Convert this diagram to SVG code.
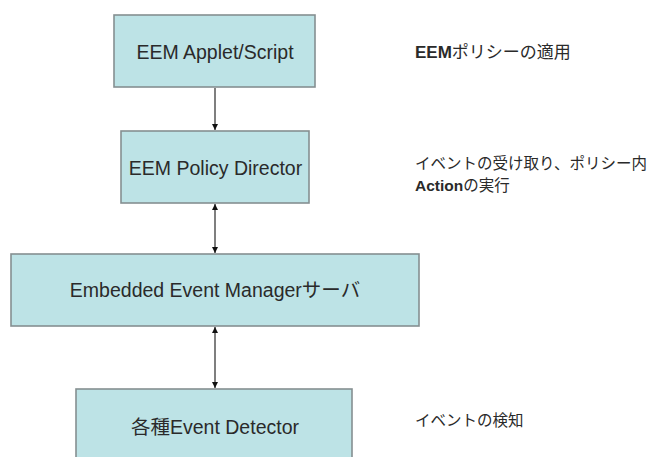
<svg xmlns="http://www.w3.org/2000/svg" width="658" height="457" viewBox="0 0 658 457">
  <style>
    .box { fill: #bde3e6; stroke: #858f91; stroke-width: 1.6; }
    .label { font-family: "Liberation Sans", "Noto Sans CJK JP", Arial, sans-serif; font-size: 19.5px; fill: #2a2a2a; text-anchor: middle; dominant-baseline: central; }
    .note { font-family: "Liberation Sans", "Noto Sans CJK JP", sans-serif; font-size: 15.5px; fill: #2a2a2a; }
    .note .b { font-weight: bold; }
    .conn { stroke: #555; stroke-width: 1.5; fill: none; }
  </style>
  <defs>
    <marker id="head" viewBox="0 0 6 6" refX="6" refY="3" markerWidth="6" markerHeight="6" markerUnits="userSpaceOnUse" orient="auto-start-reverse">
      <path d="M0,0 L6,3 L0,6 Z" fill="#111"/>
    </marker>
  </defs>

  <rect width="658" height="457" fill="#ffffff"/>

  <g id="connectors">
    <line class="conn" x1="215" y1="88" x2="215" y2="130" marker-end="url(#head)"/>
    <line class="conn" x1="215" y1="204" x2="215" y2="253" marker-start="url(#head)" marker-end="url(#head)"/>
    <line class="conn" x1="215" y1="327" x2="215" y2="388" marker-start="url(#head)" marker-end="url(#head)"/>
  </g>

  <g id="applet">
    <rect class="box" x="114" y="15" width="201" height="72"/>
    <text class="label" x="215" y="52">EEM Applet/Script</text>
  </g>

  <g id="director">
    <rect class="box" x="121" y="131" width="188" height="72"/>
    <text class="label" x="215.5" y="168">EEM Policy Director</text>
  </g>

  <g id="server">
    <rect class="box" x="11" y="254" width="408" height="72"/>
    <text class="label" x="215" y="290">Embedded Event Managerサーバ</text>
  </g>

  <g id="detector">
    <rect class="box" x="76" y="389" width="276" height="80"/>
    <text class="label" x="215" y="427">各種Event Detector</text>
  </g>

  <g id="notes">
    <text class="note" x="415" y="58" style="font-size:17px"><tspan class="b">EEM</tspan>ポリシーの適用</text>
    <text class="note" x="415" y="168.5">イベントの受け取り、ポリシー内</text>
    <text class="note" x="415" y="190.5"><tspan class="b">Action</tspan>の実行</text>
    <text class="note" x="415" y="426">イベントの検知</text>
  </g>
</svg>
